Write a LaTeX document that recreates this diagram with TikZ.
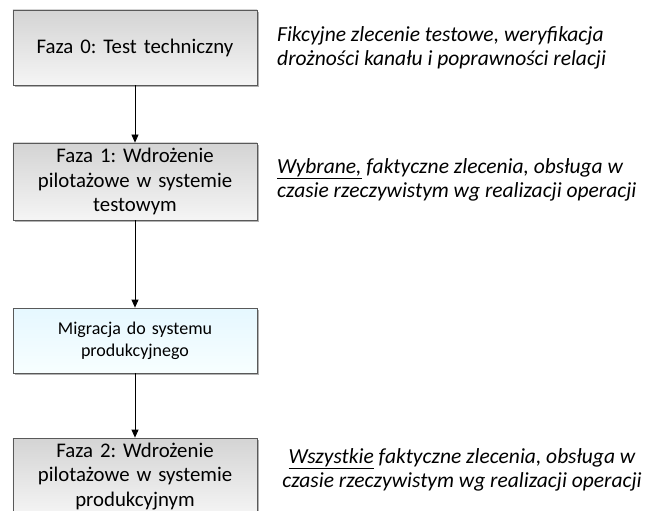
\documentclass[tikz,border=0pt]{standalone}
\usepackage{fontspec}
\setmainfont{Carlito}
\usetikzlibrary{arrows.meta,shadows}
\frenchspacing
\begin{document}
\begin{tikzpicture}[x=1bp,y=-1bp,
  phase/.style={draw=black!65, line width=0.8bp,
    top color=black!17, bottom color=black!4,
    minimum width=244bp, text width=232bp, align=center, inner sep=0pt,
    font=\fontsize{20.8bp}{24.5bp}\selectfont,
    general shadow={fill=black!30, shadow xshift=2bp, shadow yshift=-2bp}},
  migr/.style={phase, top color=blue!30!cyan!10!white, bottom color=blue!8!cyan!3!white,
    font=\fontsize{18bp}{22bp}\selectfont},
  note/.style={inner sep=0pt, font=\fontsize{21.5bp}{23.8bp}\selectfont\itshape},
  flow/.style={line width=0.8bp, -{Triangle[length=8bp,width=7bp]}}
]
\useasboundingbox (0,0) rectangle (648,511);
\fill[white] (0,0) rectangle (648,511);
\clip (0,0) rectangle (648,511);

% phase boxes
\node[phase, minimum height=75bp] (f0) at (135,47.5) {Faza 0: Test techniczny};
\node[phase, minimum height=77bp] (f1) at (135,181.5) {Faza 1: Wdrożenie\\pilotażowe w systemie\\testowym};
\node[migr, minimum height=65bp] (mg) at (135,340.5) {Migracja do systemu\\produkcyjnego};
\node[phase, minimum height=77bp] (f2) at (135,476.5) {Faza 2: Wdrożenie\\pilotażowe w systemie\\produkcyjnym};

% connectors
\draw[flow] (f0) -- (f1);
\draw[flow] (f1) -- (mg);
\draw[flow] (mg) -- (f2);

% descriptions
\node[note, anchor=west, align=left] (d0) at (277,47.6) {Fikcyjne zlecenie testowe, weryfikacja\\drożności kanału i poprawności relacji};
\node[note, anchor=west, align=left] (d1) at (277,179.5) {\underline{Wybrane,} faktyczne zlecenia, obsługa w\\czasie rzeczywistym wg realizacji operacji};
\node[note, align=center] (d2) at (462,470) {\underline{Wszystkie} faktyczne zlecenia, obsługa w\\czasie rzeczywistym wg realizacji operacji};
\end{tikzpicture}
\end{document}
